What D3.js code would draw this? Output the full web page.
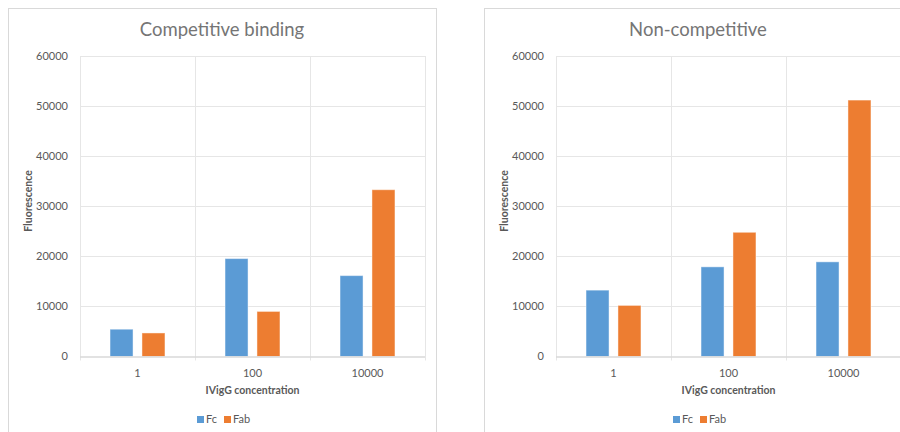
<!DOCTYPE html>
<html>
<head>
<meta charset="utf-8">
<script src="https://cdn.jsdelivr.net/npm/d3@7"></script>
<style>
  html, body { margin: 0; padding: 0; background: #fff; }
  svg { display: block; font-family: Lato, "Open Sans", sans-serif; }
</style>
</head>
<body>
<div id="chart"></div>
<script>
// chart data
var categories = ["1", "100", "10000"];
var seriesNames = ["Fc", "Fab"];
var competitiveFc = [5450, 19550, 16150];
var competitiveFab = [4700, 9000, 33300];
var nonCompetitiveFc = [13250, 17900, 18900];
var nonCompetitiveFab = [10200, 24800, 51200];
var yTicks = [0, 10000, 20000, 30000, 40000, 50000, 60000];

var colors = { Fc: "#5b9bd5", Fab: "#ed7d31" };

var width = 900, height = 432;

var svg = d3.select("#chart")
    .append("svg")
    .attr("width", width)
    .attr("height", height);

function drawPanel(opts, fc, fab)
{
    var g = svg.append("g");

    // outer chart area border
    g.append("rect")
        .attr("x", opts.boxX + 0.5)
        .attr("y", 8.5)
        .attr("width", 428)
        .attr("height", 440)
        .attr("fill", "#fff")
        .attr("stroke", "#d9d9d9");

    var x0 = d3.scaleBand()
        .domain(categories)
        .range([opts.plotLeft, opts.plotLeft + 345]);

    var x1 = d3.scaleBand()
        .domain(seriesNames)
        .range([0, x0.bandwidth()])
        .paddingInner(0.28)
        .paddingOuter(0.94);

    var y = d3.scaleLinear()
        .domain([0, 60000])
        .range([356.5, 56]);

    // horizontal gridlines
    g.selectAll(".hgrid")
        .data(yTicks.slice(1))
        .enter()
        .append("line")
        .attr("x1", x0.range()[0])
        .attr("x2", x0.range()[1])
        .attr("y1", function (d) { return Math.round(y(d)) + 0.5; })
        .attr("y2", function (d) { return Math.round(y(d)) + 0.5; })
        .attr("stroke", "#e6e6e6");

    // vertical category dividers
    var dividers = categories.map(function (c) { return x0(c); }).concat([x0.range()[1]]);
    g.selectAll(".vgrid")
        .data(dividers)
        .enter()
        .append("line")
        .attr("x1", function (d) { return Math.round(d) + 0.5; })
        .attr("x2", function (d) { return Math.round(d) + 0.5; })
        .attr("y1", y(60000))
        .attr("y2", y(0) + 4)
        .attr("stroke", "#e6e6e6");

    // bars
    var rows = categories.map(function (c, i) {
        return { cat: c, values: [{ key: "Fc", value: fc[i] }, { key: "Fab", value: fab[i] }] };
    });

    g.selectAll(".grp")
        .data(rows)
        .enter()
        .append("g")
        .attr("transform", function (d) { return "translate(" + x0(d.cat) + ",0)"; })
        .selectAll("rect")
        .data(function (d) { return d.values; })
        .enter()
        .append("rect")
        .attr("x", function (d) { return x1(d.key); })
        .attr("y", function (d) { return y(d.value); })
        .attr("width", x1.bandwidth())
        .attr("height", function (d) { return y(0) - y(d.value); })
        .attr("fill", function (d) { return colors[d.key]; })
        .attr("stroke", "rgba(255,255,255,0.45)")
        .attr("stroke-width", 1);

    // baseline
    g.append("line")
        .attr("x1", x0.range()[0])
        .attr("x2", x0.range()[1])
        .attr("y1", y(0) + 0.5)
        .attr("y2", y(0) + 0.5)
        .attr("stroke", "#d9d9d9")
        .attr("stroke-width", 1.5);

    // y tick labels
    g.selectAll(".ytick")
        .data(yTicks)
        .enter()
        .append("text")
        .attr("x", opts.plotLeft - 12)
        .attr("y", function (d) { return y(d); })
        .attr("dy", "0.36em")
        .attr("text-anchor", "end")
        .attr("font-size", 11)
        .attr("fill", "#595959")
        .text(function (d) { return d; });

    // x tick labels
    g.selectAll(".xtick")
        .data(categories)
        .enter()
        .append("text")
        .attr("x", function (d) { return x0(d) + x0.bandwidth() / 2; })
        .attr("y", 376.5)
        .attr("text-anchor", "middle")
        .attr("font-size", 11)
        .attr("fill", "#595959")
        .text(function (d) { return d; });

    // axis titles
    g.append("text")
        .attr("x", opts.plotLeft + 345 / 2)
        .attr("y", 394)
        .attr("text-anchor", "middle")
        .attr("font-size", 10.5)
        .attr("font-weight", "bold")
        .attr("fill", "#595959")
        .text("IVigG concentration");

    g.append("text")
        .attr("transform", "translate(" + (opts.plotLeft - 48) + ",201) rotate(-90)")
        .attr("text-anchor", "middle")
        .attr("font-size", 10.5)
        .attr("font-weight", "bold")
        .attr("fill", "#595959")
        .text("Fluorescence");

    // chart title
    g.append("text")
        .attr("x", opts.boxX + 214)
        .attr("y", 36)
        .attr("text-anchor", "middle")
        .attr("font-size", 18.5)
        .attr("fill", "#757575")
        .text(opts.title);

    // legend
    var legendX = opts.boxX + 189;
    var leg = g.append("g").attr("transform", "translate(" + legendX + ",416)");
    var offsets = [0, 27];
    seriesNames.forEach(function (s, i) {
        leg.append("rect")
            .attr("x", offsets[i])
            .attr("y", 0)
            .attr("width", 7)
            .attr("height", 7)
            .attr("fill", colors[s]);
        leg.append("text")
            .attr("x", offsets[i] + 9)
            .attr("y", 7)
            .attr("font-size", 11)
            .attr("fill", "#595959")
            .text(s);
    });
}

drawPanel({ boxX: 8, plotLeft: 80, title: "Competitive binding" }, competitiveFc, competitiveFab);
drawPanel({ boxX: 484, plotLeft: 556, title: "Non-competitive" }, nonCompetitiveFc, nonCompetitiveFab);
</script>
</body>
</html>
